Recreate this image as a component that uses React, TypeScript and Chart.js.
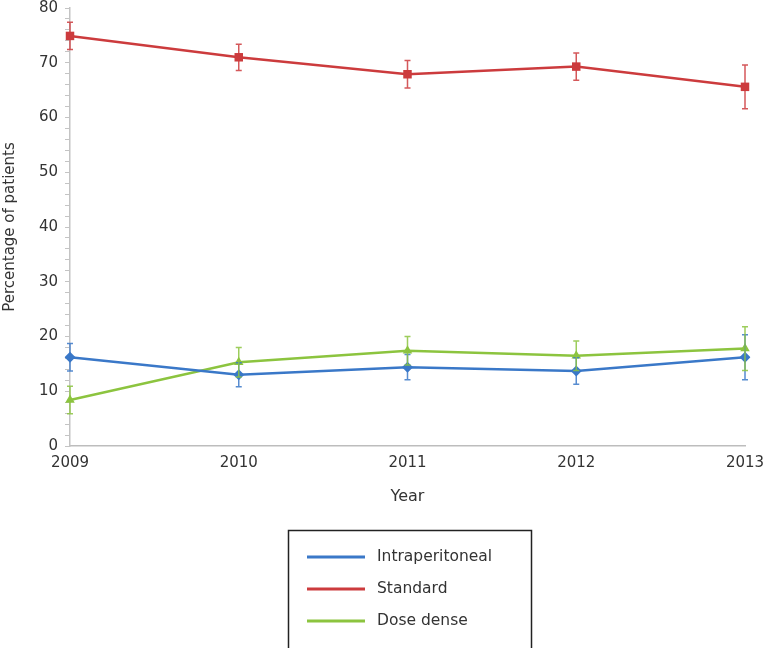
import { useEffect, useRef } from 'react';
import { Chart, registerables } from 'chart.js';

Chart.register(...registerables);

const years = ['2009', '2010', '2011', '2012', '2013'];
const seriesNames = ['Intraperitoneal', 'Standard', 'Dose dense'];
const intraperitoneal = [16.2, 13.0, 14.4, 13.7, 16.2];
const intraperitonealErr = [2.5, 2.2, 2.3, 2.4, 4.1];
const standard = [74.9, 71.0, 67.9, 69.3, 65.6];
const standardErr = [2.5, 2.4, 2.5, 2.5, 4.0];
const doseDense = [8.4, 15.3, 17.4, 16.5, 17.8];
const doseDenseErr = [2.5, 2.7, 2.6, 2.7, 4.0];
const seriesColors = ['#3a78c8', '#cc3b3d', '#8cc43f'];
const seriesPoints = ['rectRot', 'rect', 'triangle'];
const yMin = 0;
const yMax = 80;
const yStep = 2;
const yLabelEvery = 10;
const xTitle = 'Year';
const yTitle = 'Percentage of patients';

const FONT = "'DejaVu Sans', Verdana, sans-serif";

const errorBarPlugin = {
  id: 'errorBars',
  afterDatasetsDraw(chart: any) {
    const ctx = chart.ctx;
    const yScale = chart.scales.y;
    chart.data.datasets.forEach((ds: any, i: number) => {
      const meta = chart.getDatasetMeta(i);
      const errs: number[] = ds.errors || [];
      ctx.save();
      ctx.strokeStyle = ds.borderColor;
      ctx.globalAlpha = 0.85;
      ctx.lineWidth = 1.5;
      meta.data.forEach((el: any, j: number) => {
        const v = ds.data[j];
        const e = errs[j];
        if (v == null || e == null) return;
        const x = el.x;
        const yt = yScale.getPixelForValue(v + e);
        const yb = yScale.getPixelForValue(v - e);
        ctx.beginPath();
        ctx.moveTo(x, yt);
        ctx.lineTo(x, yb);
        ctx.moveTo(x - 3, yt);
        ctx.lineTo(x + 3, yt);
        ctx.moveTo(x - 3, yb);
        ctx.lineTo(x + 3, yb);
        ctx.stroke();
      });
      ctx.restore();
    });
  },
};

const boxLegendPlugin = {
  id: 'boxLegend',
  afterDraw(chart: any) {
    const ctx = chart.ctx;
    const left = 288.5;
    const top = 530.5;
    const right = 531.5;
    const bottom = 660;
    ctx.save();
    ctx.strokeStyle = '#222';
    ctx.lineWidth = 1.5;
    ctx.strokeRect(left, top, right - left, bottom - top);
    ctx.font = `15.5px ${FONT}`;
    ctx.textBaseline = 'middle';
    ctx.fillStyle = '#333';
    chart.data.datasets.forEach((ds: any, i: number) => {
      const y = 557 + i * 32;
      ctx.strokeStyle = ds.borderColor;
      ctx.lineWidth = 3;
      ctx.beginPath();
      ctx.moveTo(307, y);
      ctx.lineTo(365, y);
      ctx.stroke();
      ctx.fillText(ds.label, 377, y);
    });
    ctx.restore();
  },
};

export default function App() {
  const ref = useRef<HTMLCanvasElement | null>(null);
  useEffect(() => {
    if (!ref.current) return;
    const values = [intraperitoneal, standard, doseDense];
    const errors = [intraperitonealErr, standardErr, doseDenseErr];
    const chart = new Chart(ref.current, {
      type: 'line',
      data: {
        labels: years,
        datasets: seriesNames.map((name, i) => ({
          label: name,
          data: values[i],
          errors: errors[i],
          borderColor: seriesColors[i],
          backgroundColor: seriesColors[i],
          borderWidth: 2.5,
          pointStyle: seriesPoints[i] as any,
          pointRadius: i === 1 ? 6 : 5.5,
          pointBorderWidth: 0,
          tension: 0,
        })) as any,
      },
      options: {
        responsive: false,
        animation: false,
        layout: { padding: { left: 0, right: 20, top: 8, bottom: 142 } },
        plugins: {
          legend: { display: false },
          tooltip: { enabled: false },
        },
        scales: {
          x: {
            type: 'category',
            offset: false,
            grid: { display: true, drawOnChartArea: false, drawTicks: false },
            border: { display: true, color: '#bdbdbd', width: 1.5 },
            ticks: { color: '#333', font: { family: FONT, size: 15 }, padding: 8, maxRotation: 0 },
            title: { display: true, text: xTitle, color: '#333', font: { family: FONT, size: 16 }, padding: { top: 0, bottom: 0 } },
            afterFit(scale: any) {
              scale.height = 60;
              scale.paddingLeft = 0;
              scale.paddingRight = 0;
            },
          },
          y: {
            min: yMin,
            max: yMax,
            grid: { display: true, drawOnChartArea: false, drawTicks: true, tickLength: 5, color: '#c4c4c4' },
            border: { display: true, color: '#c4c4c4', width: 1.5 },
            ticks: {
              stepSize: yStep,
              autoSkip: false,
              color: '#333',
              font: { family: FONT, size: 15 },
              padding: 7,
              callback: (v: any) => (Number(v) % yLabelEvery === 0 ? String(v) : ''),
            },
            title: { display: true, text: yTitle, color: '#333', font: { family: FONT, size: 15 }, padding: { top: 1, bottom: 0 } },
            afterFit(scale: any) {
              scale.width = 70;
              scale.paddingTop = 0;
              scale.paddingBottom = 0;
            },
          },
        },
      },
      plugins: [errorBarPlugin, boxLegendPlugin],
    });
    return () => chart.destroy();
  }, []);
  return (
    <div style={{ position: 'absolute', left: 0, top: 0, width: 765, height: 648, background: '#fff' }}>
      <canvas ref={ref} width={765} height={648} />
    </div>
  );
}
